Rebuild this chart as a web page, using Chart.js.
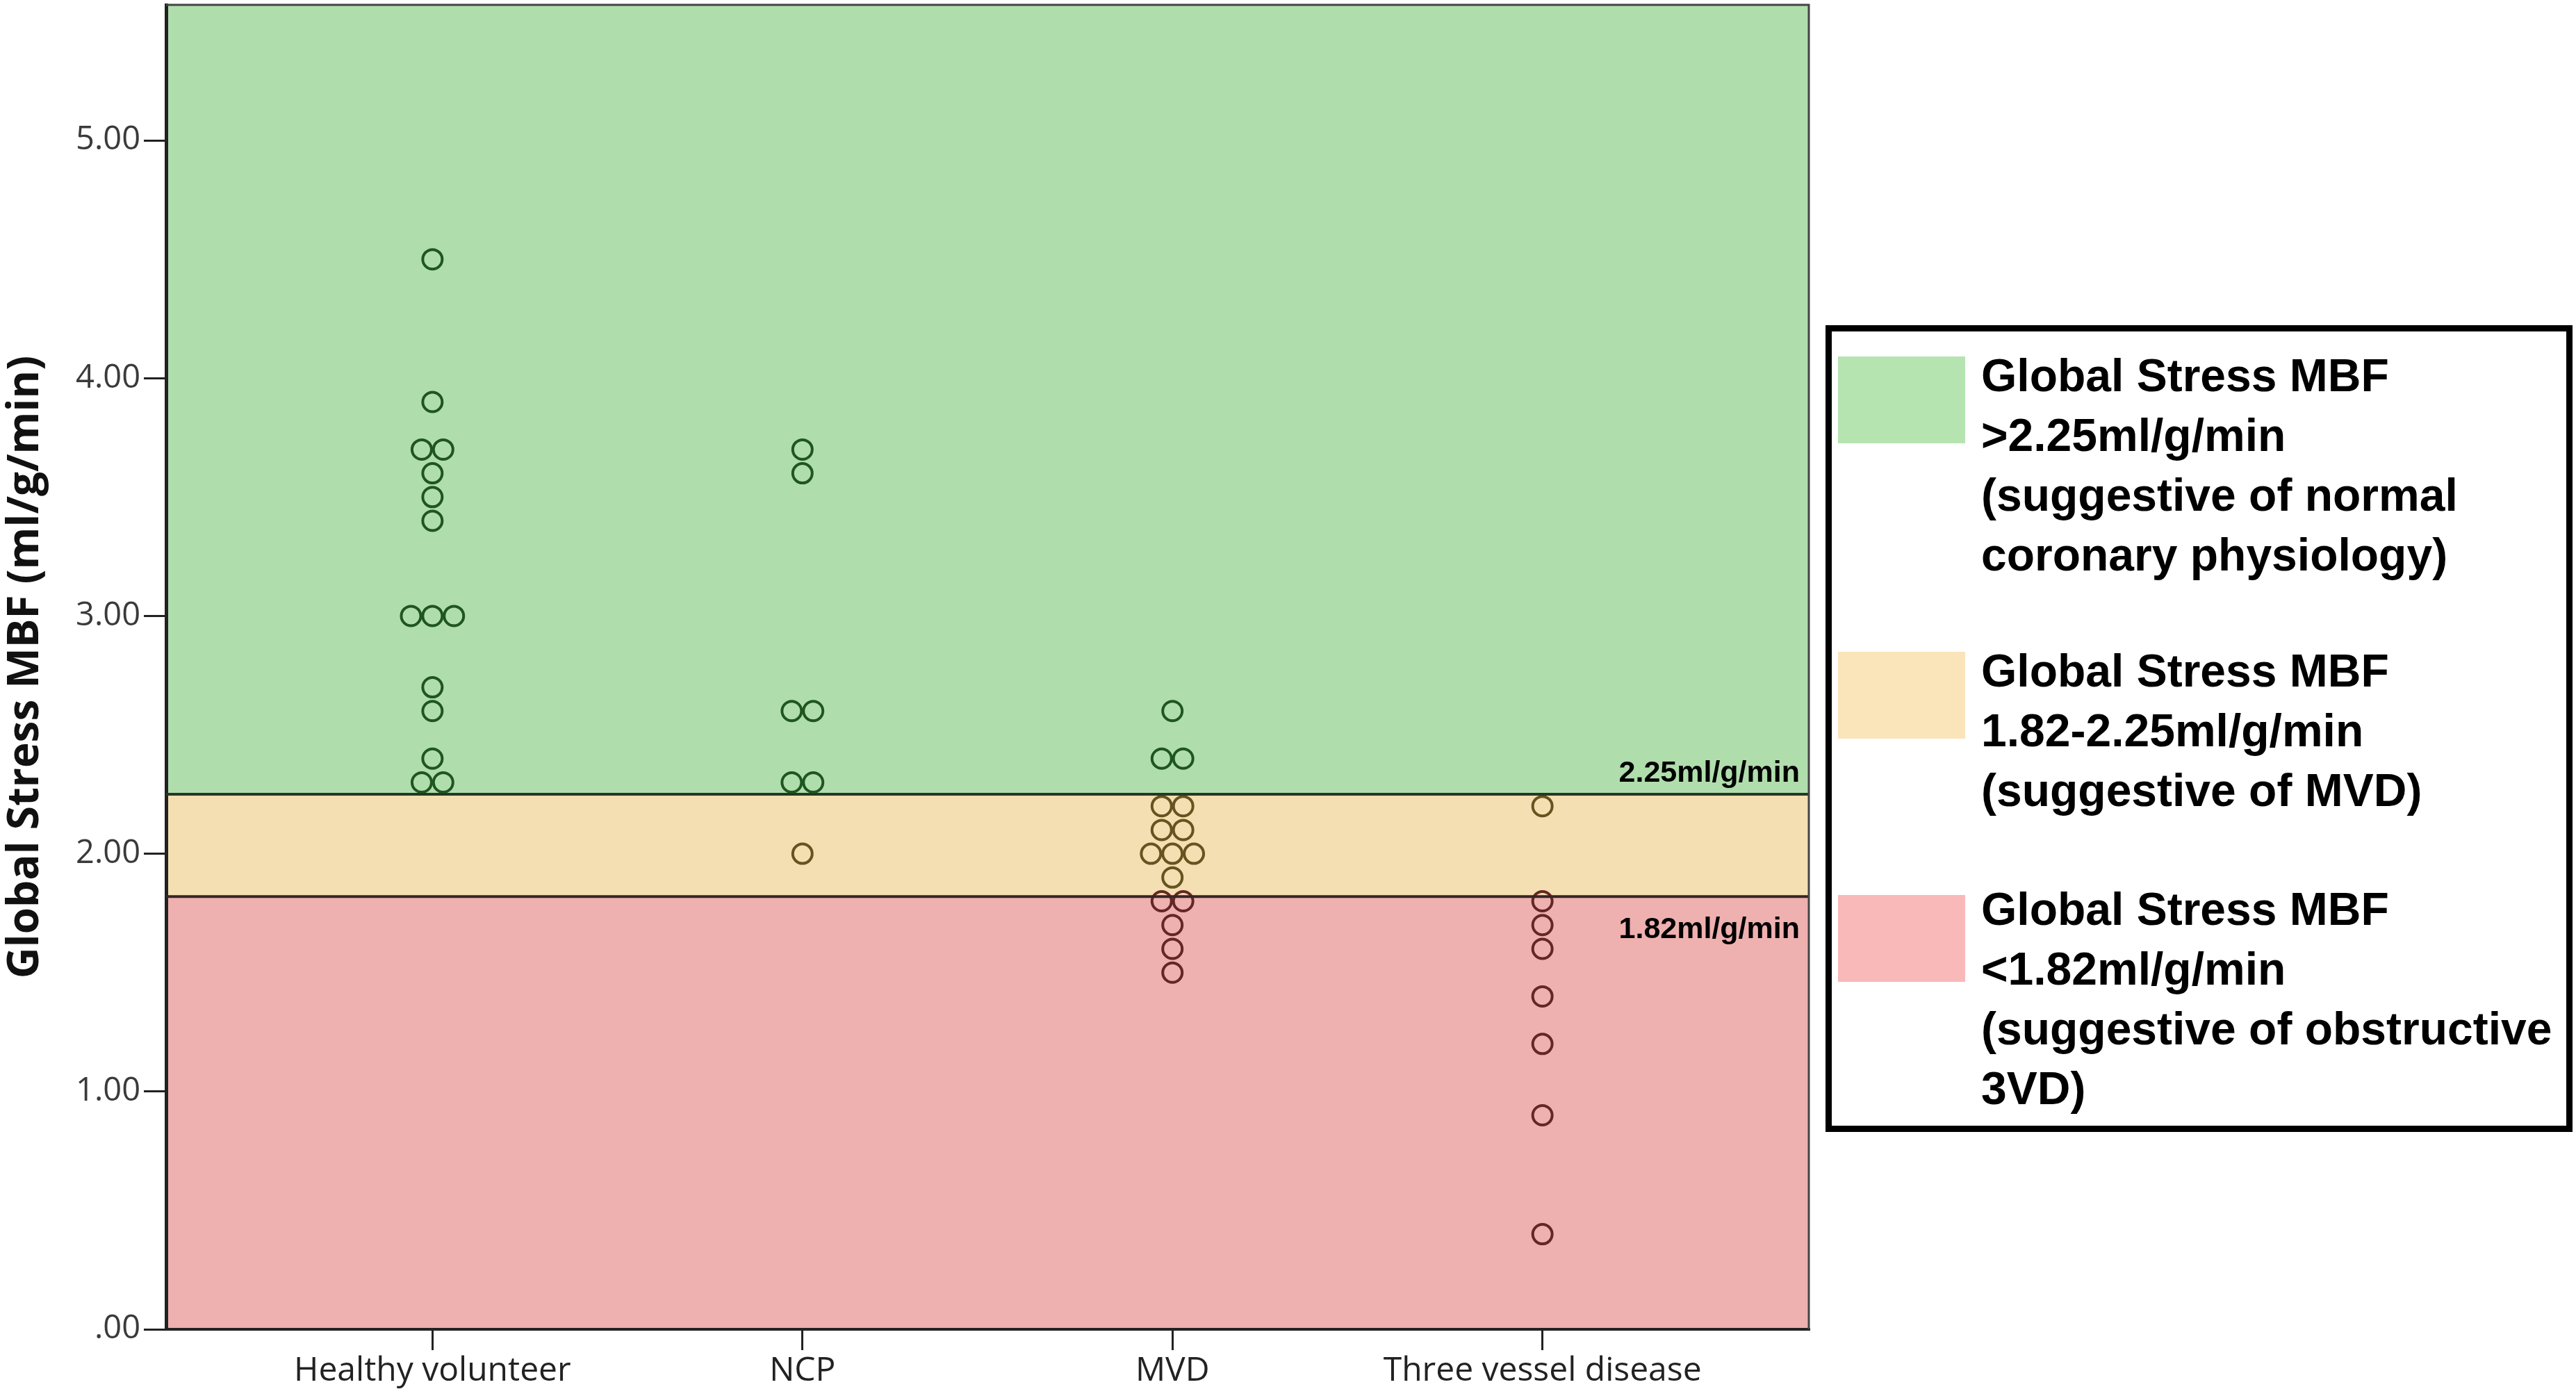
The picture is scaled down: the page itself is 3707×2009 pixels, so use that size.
<!DOCTYPE html>
<html>
<head>
<meta charset="utf-8">
<script src="https://cdn.jsdelivr.net/npm/chart.js@4.4.1/dist/chart.umd.min.js"></script>
<style>
  html, body { margin: 0; padding: 0; background: #ffffff; }
  #wrap { position: relative; width: 3707px; height: 2009px; overflow: hidden; }
  #c { position: absolute; left: 0; top: 0; }
  #legend { position: absolute; left: 2627px; top: 468px; width: 1075px; height: 1161px;
            box-sizing: border-box; border: 9px solid #000; background: #fff; }
  .sw { position: absolute; left: 9px; width: 183px; height: 125px; }
  .lt { position: absolute; left: 215px; font-family: "Liberation Sans", Arial, sans-serif;
        font-weight: bold; font-size: 66px; line-height: 86px; color: #000; white-space: nowrap; }
</style>
</head>
<body>
<div id="wrap">
  <canvas id="c" width="3707" height="2009"></canvas>
  <div id="legend"></div>
</div>
<script>
// ---- data ----
const categories = ['Healthy volunteer', 'NCP', 'MVD', 'Three vessel disease'];
const healthyVolunteer = [4.5, 3.9, 3.7, 3.7, 3.6, 3.5, 3.4, 3.0, 3.0, 3.0, 2.7, 2.6, 2.4, 2.3, 2.3];
const ncp = [3.7, 3.6, 2.6, 2.6, 2.3, 2.3, 2.0];
const mvd = [2.6, 2.4, 2.4, 2.2, 2.2, 2.1, 2.1, 2.0, 2.0, 2.0, 1.9, 1.8, 1.8, 1.7, 1.6, 1.5];
const threeVessel = [2.2, 1.8, 1.7, 1.6, 1.4, 1.2, 0.9, 0.4];
const yTicks = [0, 1, 2, 3, 4, 5];
const upperThreshold = 2.25;
const lowerThreshold = 1.82;
const thresholdLabels = ['2.25ml/g/min', '1.82ml/g/min'];
const legendItems = [
  ['Global Stress MBF', '>2.25ml/g/min', '(suggestive of normal', 'coronary physiology)'],
  ['Global Stress MBF', '1.82-2.25ml/g/min', '(suggestive of MVD)'],
  ['Global Stress MBF', '<1.82ml/g/min', '(suggestive of obstructive', '3VD)']
];

// ---- styles ----
const bandColors = { high: '#b0ddac', mid: '#f3dfb1', low: '#efb0b0' };
const swatchColors = ['#b5e4b1', '#fae4b9', '#f9b9b9'];
const pointColors = { high: '#1f561f', mid: '#665320', low: '#662626' };
const jitterStep = 0.058;

function buildPoints(values, catIndex) {
  const counts = {};
  values.forEach(v => { counts[v] = (counts[v] || 0) + 1; });
  const seen = {};
  return values.map(v => {
    const n = counts[v];
    const i = seen[v] || 0;
    seen[v] = i + 1;
    return { x: catIndex + 1 + (i - (n - 1) / 2) * jitterStep, y: v };
  });
}

const seriesList = [healthyVolunteer, ncp, mvd, threeVessel];

const bandPlugin = {
  id: 'bands',
  beforeDraw(chart) {
    const { ctx, chartArea: a, scales: { y } } = chart;
    const yU = y.getPixelForValue(upperThreshold);
    const yL = y.getPixelForValue(lowerThreshold);
    ctx.save();
    ctx.fillStyle = bandColors.high; ctx.fillRect(a.left, a.top, a.right - a.left, yU - a.top);
    ctx.fillStyle = bandColors.mid; ctx.fillRect(a.left, yU, a.right - a.left, yL - yU);
    ctx.fillStyle = bandColors.low; ctx.fillRect(a.left, yL, a.right - a.left, a.bottom - yL);
    ctx.restore();
  },
  afterDatasetsDraw(chart) {
    const { ctx, chartArea: a, scales: { y } } = chart;
    const yU = y.getPixelForValue(upperThreshold);
    const yL = y.getPixelForValue(lowerThreshold);
    ctx.save();
    ctx.lineWidth = 4;
    ctx.strokeStyle = '#263826';
    ctx.beginPath(); ctx.moveTo(a.left, yU); ctx.lineTo(a.right, yU); ctx.stroke();
    ctx.strokeStyle = '#382424';
    ctx.beginPath(); ctx.moveTo(a.left, yL); ctx.lineTo(a.right, yL); ctx.stroke();
    // frame top/right
    ctx.strokeStyle = '#444';
    ctx.lineWidth = 3;
    ctx.beginPath();
    ctx.moveTo(a.left, a.top); ctx.lineTo(a.right, a.top); ctx.lineTo(a.right, a.bottom);
    ctx.stroke();
    // threshold labels
    ctx.fillStyle = '#000';
    ctx.font = 'bold 43px "Liberation Sans", Arial, sans-serif';
    ctx.textAlign = 'right';
    ctx.textBaseline = 'alphabetic';
    ctx.fillText(thresholdLabels[0], a.right - 13, yU - 18);
    ctx.textBaseline = 'top';
    ctx.fillText(thresholdLabels[1], a.right - 13, yL + 26);
    ctx.restore();
  }
};

const colorFor = v => v >= upperThreshold ? pointColors.high : (v >= lowerThreshold ? pointColors.mid : pointColors.low);

new Chart(document.getElementById('c'), {
  type: 'scatter',
  data: {
    datasets: seriesList.map((vals, i) => ({
      label: categories[i],
      data: buildPoints(vals, i),
      pointStyle: 'circle',
      pointRadius: 14,
      pointBorderWidth: 4,
      pointBackgroundColor: 'rgba(0,0,0,0)',
      pointBorderColor: ctx => colorFor(ctx.raw ? ctx.raw.y : 3)
    }))
  },
  options: {
    responsive: false,
    animation: false,
    events: [],
    layout: { autoPadding: false, padding: { left: 0, top: 7, right: 1104, bottom: 0 } },
    plugins: { legend: { display: false }, tooltip: { enabled: false } },
    scales: {
      x: {
        type: 'linear',
        min: 0.28,
        max: 4.72,
        afterBuildTicks: s => { s.ticks = categories.map((c, i) => ({ value: i + 1 })); },
        afterFit: s => { s.height = 96; s.paddingLeft = 0; s.paddingRight = 0; },
        ticks: {
          callback: v => categories[Math.round(v) - 1] || '',
          font: { family: '"Open Sans", sans-serif', size: 48 },
          color: '#222',
          padding: 2,
          maxRotation: 0,
          autoSkip: false
        },
        grid: { drawOnChartArea: false, drawTicks: true, tickLength: 30, color: '#222', lineWidth: 3 },
        border: { display: true, color: '#222', width: 4 }
      },
      y: {
        min: 0,
        max: 5.57,
        afterBuildTicks: s => { s.ticks = yTicks.map(v => ({ value: v })); },
        afterFit: s => { s.width = 239; s.paddingTop = 0; s.paddingBottom = 0; },
        ticks: {
          callback: v => v === 0 ? '.00' : Number(v).toFixed(2),
          font: { family: '"Open Sans", sans-serif', size: 47 },
          color: '#3a3a3a',
          padding: 5
        },
        grid: { drawOnChartArea: false, drawTicks: true, tickLength: 32, color: '#222', lineWidth: 3 },
        border: { display: true, color: '#222', width: 5 },
        title: {
          display: true,
          text: 'Global Stress MBF (ml/g/min)',
          font: { family: '"Open Sans", sans-serif', size: 62, weight: 'bold' },
          color: '#111',
          padding: { top: 0, bottom: 0 }
        }
      }
    }
  },
  plugins: [bandPlugin]
});

// ---- legend ----
const legendTops = [497, 922, 1265];
const swatchTops = [513, 938, 1288];
const legendEl = document.getElementById('legend');
legendItems.forEach((lines, i) => {
  const sw = document.createElement('div');
  sw.className = 'sw';
  sw.style.top = (swatchTops[i] - 468 - 9) + 'px';
  sw.style.background = swatchColors[i];
  legendEl.appendChild(sw);
  const t = document.createElement('div');
  t.className = 'lt';
  t.style.top = (legendTops[i] - 468 - 9) + 'px';
  lines.forEach((ln, k) => {
    if (k) t.appendChild(document.createElement('br'));
    t.appendChild(document.createTextNode(ln));
  });
  legendEl.appendChild(t);
});
</script>
</body>
</html>
